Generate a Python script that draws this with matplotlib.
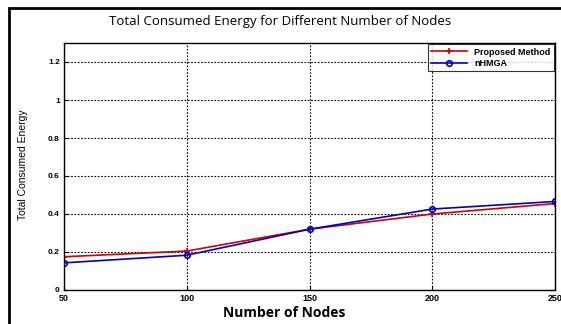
import matplotlib
matplotlib.use("Agg")
import matplotlib.pyplot as plt
from matplotlib.patches import Rectangle

# --- data ---
nodes = [50, 100, 150, 200, 250]
proposed = [0.175, 0.205, 0.32, 0.40, 0.455]
nhmga = [0.143, 0.183, 0.32, 0.426, 0.466]
yticks = [0, 0.2, 0.4, 0.6, 0.8, 1, 1.2]
ytick_labels = ["0", "0.2", "0.4", "0.6", "0.8", "1", "1.2"]

W, H = 561, 324
fig = plt.figure(figsize=(W / 100, H / 100), dpi=100)

# outer frame (cut off at right and bottom like the reference)
fig.patches.append(Rectangle((9 / W, -0.2), 1.0, 1 - 8 / H + 0.2,
                             transform=fig.transFigure, fill=False,
                             edgecolor="black", linewidth=2.0))

ax = fig.add_axes([64 / W, 1 - 290 / H, (555 - 64) / W, (290 - 43) / H])

ax.plot(nodes, proposed, color="#cc0000", marker="+", markersize=5,
        markeredgewidth=1.2, linewidth=1.2, label="Proposed Method")
ax.plot(nodes, nhmga, color="#0000bb", marker="o", markersize=4,
        markerfacecolor="none", markeredgewidth=1.2, linewidth=1.2, label="nHMGA")

ax.set_xlim(50, 250)
ax.set_ylim(0, 1.3)
ax.set_xticks(nodes)
ax.set_xticklabels([str(n) for n in nodes], fontsize=6.5, fontweight="bold",
                   family="Liberation Sans")
ax.set_yticks(yticks)
ax.set_yticklabels(ytick_labels, fontsize=6, fontweight="bold",
                   family="Liberation Sans")
ax.tick_params(direction="in", length=3, width=0.8)
ax.tick_params(axis="x", pad=3)
ax.tick_params(axis="y", pad=3)
ax.grid(True, color="black", linestyle=(0, (1.5, 1.5)), linewidth=0.8)
for s in ax.spines.values():
    s.set_linewidth(1.0)

fig.text(0.5, 1 - 22 / H, "Total Consumed Energy for Different Number of Nodes",
         ha="center", va="center", fontsize=9.5, family="Open Sans")
fig.text(284 / W, 1 - 313 / H, "Number of Nodes", ha="center", va="center",
         fontsize=10, family="Open Sans", fontweight="bold")
fig.text(23 / W, 1 - 165 / H, "Total Consumed Energy", ha="center", va="center",
         rotation=90, fontsize=7.5, family="Liberation Sans")

leg = ax.legend(loc="upper right", frameon=True, fancybox=False,
                edgecolor="black", borderpad=0.35, handlelength=4.0,
                labelspacing=0.25, borderaxespad=0.15,
                prop={"family": "Liberation Sans", "weight": "bold", "size": 6.5})
leg.get_frame().set_linewidth(0.8)

fig.savefig("out.png", dpi=100)
